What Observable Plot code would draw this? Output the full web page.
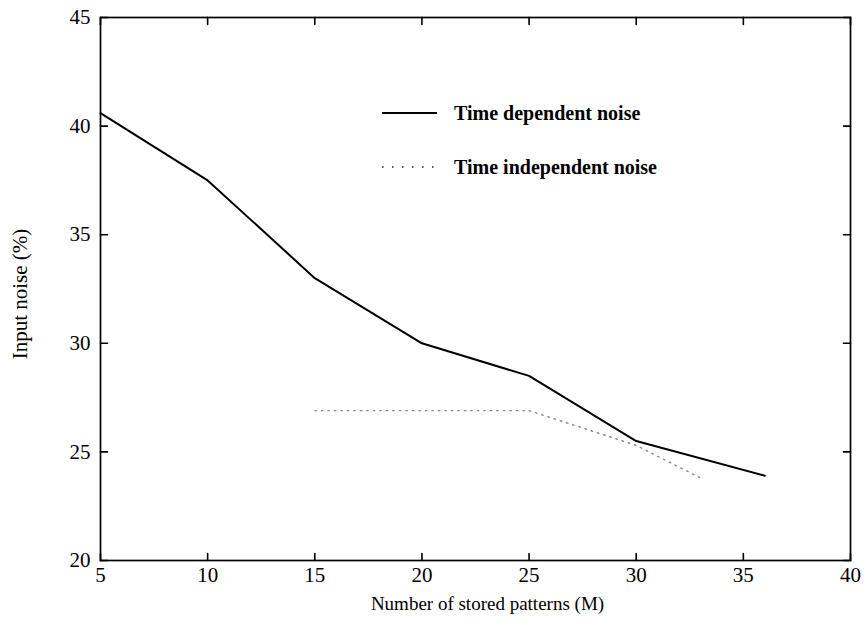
<!DOCTYPE html>
<html><head><meta charset="utf-8">
<script src="https://cdn.jsdelivr.net/npm/d3@7"></script>
<script src="https://cdn.jsdelivr.net/npm/@observablehq/plot@0.6"></script>
<style>
body{margin:0;background:#fff;}
#wrap{position:relative;width:867px;height:638px;}
#legend{position:absolute;left:0;top:0;pointer-events:none;}
</style></head><body><div id="wrap"></div>
<script>
const patterns = [5, 10, 15, 20, 25, 30, 36];
const timeDependent = [40.6, 37.5, 33.0, 30.0, 28.5, 25.5, 23.9];
const patternsIndep = [15, 20, 25, 30, 33];
const timeIndependent = [26.9, 26.9, 26.9, 25.3, 23.8];
const xTicks = [5, 10, 15, 20, 25, 30, 35, 40];
const yTicks = [20, 25, 30, 35, 40, 45];
const seriesNames = ["Time dependent noise", "Time independent noise"];
const xLabel = "Number of stored patterns (M)";
const yLabel = "Input noise (%)";

const dep = patterns.map((x, i) => ({x, y: timeDependent[i]}));
const indep = patternsIndep.map((x, i) => ({x, y: timeIndependent[i]}));

const W = 867, H = 638, mL = 100, mR = 17, mT = 17, mB = 78;
const tk = 7;
const tickOpts = {length: tk, anchor: "start", shape: "spike", r: 0.01, stroke: "#000", strokeWidth: 1.6, fill: "none"};

const plot = Plot.plot({
  width: W, height: H,
  marginLeft: mL, marginRight: mR, marginTop: mT, marginBottom: mB,
  style: {fontFamily: "'Liberation Serif', 'Times New Roman', serif", fontSize: "21px", color: "#000", background: "#fff", overflow: "visible"},
  x: {domain: [5, 40], label: null},
  y: {domain: [20, 45], label: null},
  marks: [
    Plot.axisX(xTicks, {anchor: "bottom", tickSize: 0, tickPadding: 7, fontSize: 21, tickFormat: d => d, label: null}),
    Plot.axisY(yTicks, {anchor: "left", tickSize: 0, tickPadding: 10, fontSize: 21, tickFormat: d => d, label: null}),
    Plot.vector(xTicks, {x: d => d, frameAnchor: "bottom", rotate: 0, ...tickOpts}),
    Plot.vector(xTicks, {x: d => d, frameAnchor: "top", rotate: 180, ...tickOpts}),
    Plot.vector(yTicks, {y: d => d, frameAnchor: "left", rotate: 90, ...tickOpts}),
    Plot.vector(yTicks, {y: d => d, frameAnchor: "right", rotate: -90, ...tickOpts}),
    Plot.frame({stroke: "#000", strokeWidth: 1.7}),
    Plot.line(indep, {x: "x", y: "y", stroke: "#888", strokeWidth: 1.4, strokeDasharray: "1.5,5"}),
    Plot.line(dep, {x: "x", y: "y", stroke: "#000", strokeWidth: 2}),
    Plot.text([yLabel], {text: d => d, frameAnchor: "left", textAnchor: "middle", lineAnchor: "middle", dx: -80, dy: 5, rotate: -90, fontSize: 21}),
    Plot.text([xLabel], {text: d => d, frameAnchor: "bottom", textAnchor: "middle", lineAnchor: "middle", dx: 12, dy: 43, fontSize: 19})
  ]
});
const wrap = document.getElementById("wrap");
wrap.appendChild(plot);

// Legend overlay
const ns = "http://www.w3.org/2000/svg";
const lg = document.createElementNS(ns, "svg");
lg.setAttribute("id", "legend");
lg.setAttribute("width", W);
lg.setAttribute("height", H);
const rows = [
  {name: seriesNames[0], y: 113, dash: null, stroke: "#000", w: 2},
  {name: seriesNames[1], y: 167, dash: "1.5,8.5", stroke: "#222", w: 1.6}
];
rows.forEach(r => {
  const l = document.createElementNS(ns, "line");
  l.setAttribute("x1", 382); l.setAttribute("x2", 437);
  l.setAttribute("y1", r.y); l.setAttribute("y2", r.y);
  l.setAttribute("stroke", r.stroke); l.setAttribute("stroke-width", r.w);
  if (r.dash) l.setAttribute("stroke-dasharray", r.dash);
  lg.appendChild(l);
  const t = document.createElementNS(ns, "text");
  t.setAttribute("x", 454); t.setAttribute("y", r.y);
  t.setAttribute("dy", "0.35em");
  t.setAttribute("font-family", "'Liberation Serif', serif");
  t.setAttribute("font-weight", "bold");
  t.setAttribute("font-size", 20);
  t.textContent = r.name;
  lg.appendChild(t);
});
wrap.appendChild(lg);
</script></body></html>
